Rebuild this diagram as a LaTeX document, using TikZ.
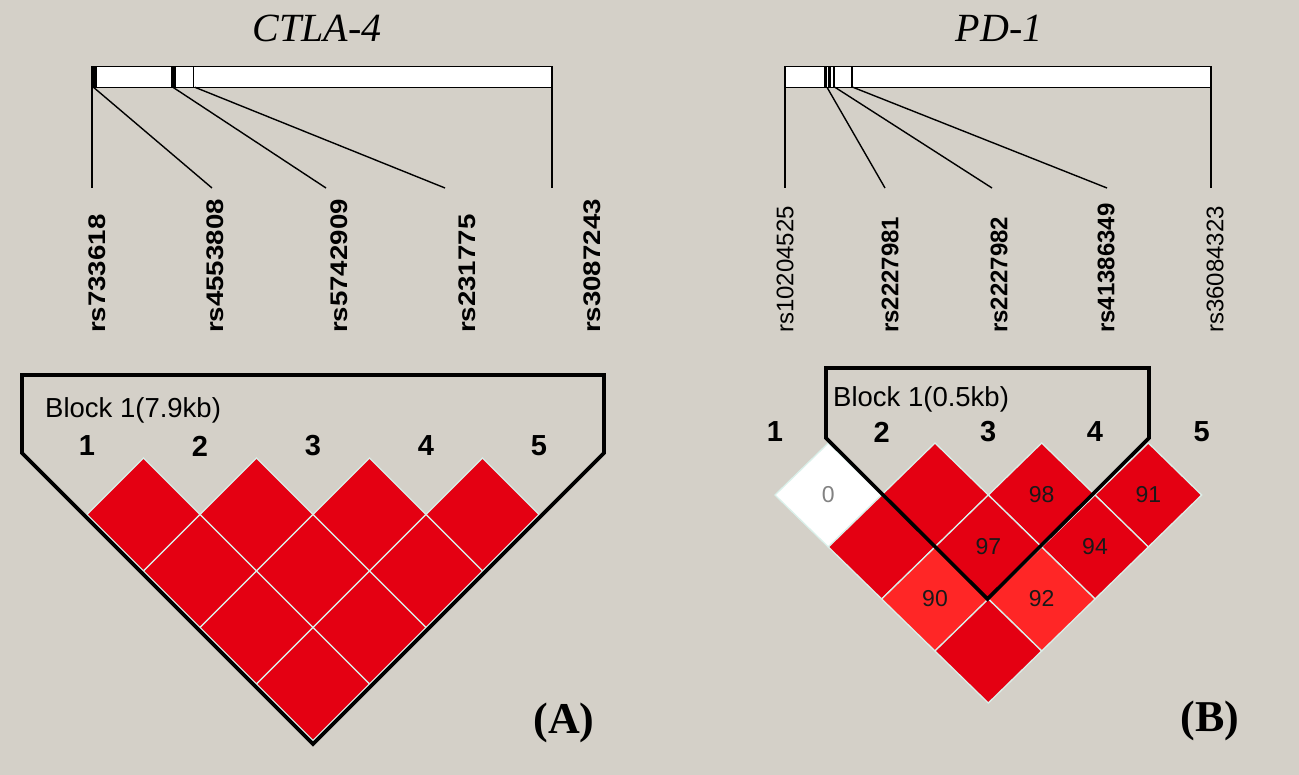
\documentclass[tikz,border=0pt]{standalone}
\usepackage{fontspec}
\setmainfont{Liberation Serif}
\setsansfont{Liberation Sans}
\usepackage{graphicx}
\definecolor{bg}{RGB}{212,208,200}
\definecolor{ldred}{RGB}{228,0,18}
\definecolor{ldlight}{RGB}{255,38,38}
\definecolor{gridc}{RGB}{218,240,234}
\definecolor{valgray}{RGB}{130,130,130}
\newcommand\ldcell[5]{\filldraw[fill=#5,draw=gridc,line width=1.3] (#1-#3,#2) -- (#1,#2-#4) -- (#1+#3,#2) -- (#1,#2+#4) -- cycle;}
\tikzset{
  bar/.style={draw=black,line width=1.4,fill=white},
  conn/.style={draw=black,line width=1.4},
  snpL/.style={rotate=90,anchor=west,inner sep=0,font=\sffamily\bfseries\fontsize{24}{24}\selectfont},
  snpR/.style={rotate=90,anchor=west,inner sep=0,font=\sffamily\fontsize{24}{24}\selectfont},
  snpRb/.style={snpR,font=\sffamily\bfseries\fontsize{24}{24}\selectfont},
  num/.style={inner sep=0,font=\sffamily\bfseries\fontsize{29}{29}\selectfont},
  val/.style={inner sep=0,font=\sffamily\fontsize{23}{23}\selectfont,text=black!90},
  blk/.style={draw=black,line width=3.6,line join=miter},
  blktext/.style={inner sep=0,anchor=base west,font=\sffamily\fontsize{27.5}{27.5}\selectfont},
  title/.style={inner sep=0,font=\itshape\fontsize{40}{40}\selectfont},
  panel/.style={inner sep=0,anchor=base,font=\bfseries\fontsize{44}{44}\selectfont}
}
\begin{document}
\begin{tikzpicture}[x=1pt,y=-1pt]
\useasboundingbox (0,0) rectangle (1299,775);
\fill[bg] (0,0) rectangle (1299,775);

% titles
\node[title] (tA) at (317,28) {CTLA-4};
\node[title] (tB) at (999,28) {PD-1};

% ---------- gene A ----------
\draw[bar] (92,66.7) rectangle (552,87.3);
\fill[black] (91.5,66.7) rectangle (96.5,87.3);
\fill[black] (171,66.7) rectangle (175.5,87.3);
\draw[line width=1.4] (193.5,66.7) -- (193.5,87.3);
\coordinate (a1) at (92,87.3);
\coordinate (a2) at (93.5,87.3);
\coordinate (a3) at (173,87.3);
\coordinate (a4) at (195,87.3);
\coordinate (a5) at (552,87.3);
\coordinate (a1e) at (92,188);
\coordinate (a2e) at (212,188);
\coordinate (a3e) at (326,188);
\coordinate (a4e) at (445,188);
\coordinate (a5e) at (552,188);
\foreach \k in {1,...,5}{\draw[conn] (a\k) -- (a\k e);}
\node[snpL] (sa1) at (97,333) {\scalebox{1.15}[1]{rs733618}};
\node[snpL] (sa2) at (215.5,333) {\scalebox{1.15}[1]{rs4553808}};
\node[snpL] (sa3) at (339,333) {\scalebox{1.15}[1]{rs5742909}};
\node[snpL] (sa4) at (467,333) {\scalebox{1.15}[1]{rs231775}};
\node[snpL] (sa5) at (592,333) {\scalebox{1.15}[1]{rs3087243}};

% ---------- gene B ----------
\draw[bar] (785,66.7) rectangle (1211,87.3);
\fill[black] (824.3,66.7) rectangle (827,87.3);
\fill[black] (828.3,66.7) rectangle (831,87.3);
\fill[black] (832.5,66.7) rectangle (835,87.3);
\draw[line width=1.4] (851.8,66.7) -- (851.8,87.3);
\coordinate (b1) at (785,87.3);
\coordinate (b2) at (827,87.3);
\coordinate (b3) at (835,87.3);
\coordinate (b4) at (853,87.3);
\coordinate (b5) at (1211,87.3);
\coordinate (b1e) at (785,188);
\coordinate (b2e) at (885,188);
\coordinate (b3e) at (992,188);
\coordinate (b4e) at (1107,188);
\coordinate (b5e) at (1211,188);
\foreach \k in {1,...,5}{\draw[conn] (b\k) -- (b\k e);}
\node[snpR] (sb1) at (785,333) {rs10204525};
\node[snpRb] (sb2) at (890,333) {rs2227981};
\node[snpRb] (sb3) at (999,333) {rs2227982};
\node[snpRb] (sb4) at (1106,333) {rs41386349};
\node[snpR] (sb5) at (1215,333) {rs36084323};

% ---------- LD plot A ----------
\ldcell{143.5}{514.5}{56.5}{56.5}{ldred}
\ldcell{256.5}{514.5}{56.5}{56.5}{ldred}
\ldcell{369.5}{514.5}{56.5}{56.5}{ldred}
\ldcell{482.5}{514.5}{56.5}{56.5}{ldred}
\ldcell{200}{571}{56.5}{56.5}{ldred}
\ldcell{313}{571}{56.5}{56.5}{ldred}
\ldcell{426}{571}{56.5}{56.5}{ldred}
\ldcell{256.5}{627.5}{56.5}{56.5}{ldred}
\ldcell{369.5}{627.5}{56.5}{56.5}{ldred}
\ldcell{313}{684}{56.5}{56.5}{ldred}
\draw[blk] (22,453) -- (22,375) -- (604,375) -- (604,453) -- (313,744) -- cycle;
\node[blktext] (bkA) at (45,418) {Block 1(7.9kb)};
\node[num] (nA1) at (87,446) {1};
\node[num] (nA2) at (200,446) {2};
\node[num] (nA3) at (313,446) {3};
\node[num] (nA4) at (426,446) {4};
\node[num] (nA5) at (539,446) {5};
\node[panel] (pA) at (564,733) {(A)};

% ---------- LD plot B ----------
\ldcell{828.3}{495}{53.33}{52}{white}
\ldcell{935}{495}{53.33}{52}{ldred}
\ldcell{1041.7}{495}{53.33}{52}{ldred}
\ldcell{1148.3}{495}{53.33}{52}{ldred}
\ldcell{881.7}{547}{53.33}{52}{ldred}
\ldcell{988.3}{547}{53.33}{52}{ldred}
\ldcell{1095}{547}{53.33}{52}{ldred}
\ldcell{935}{599}{53.33}{52}{ldlight}
\ldcell{1041.7}{599}{53.33}{52}{ldlight}
\ldcell{988.3}{651}{53.33}{52}{ldred}
\draw[blk] (826,438) -- (826,368) -- (1149,368) -- (1149,438) -- (987.5,599) -- cycle;
\node[blktext] (bkB) at (833,407) {Block 1(0.5kb)};
\node[num] (nB1) at (775,432) {1};
\node[num] (nB2) at (881.7,432) {2};
\node[num] (nB3) at (988.3,432) {3};
\node[num] (nB4) at (1095,432) {4};
\node[num] (nB5) at (1201.7,432) {5};
\node[val,text=valgray] (v12) at (828.3,495) {0};
\node[val] (v34) at (1041.7,495) {98};
\node[val] (v45) at (1148.3,495) {91};
\node[val] (v24) at (988.3,547) {97};
\node[val] (v35) at (1095,547) {94};
\node[val] (v14) at (935,599) {90};
\node[val] (v25) at (1041.7,599) {92};
\node[panel] (pB) at (1210,731) {(B)};
\end{tikzpicture}
\end{document}
